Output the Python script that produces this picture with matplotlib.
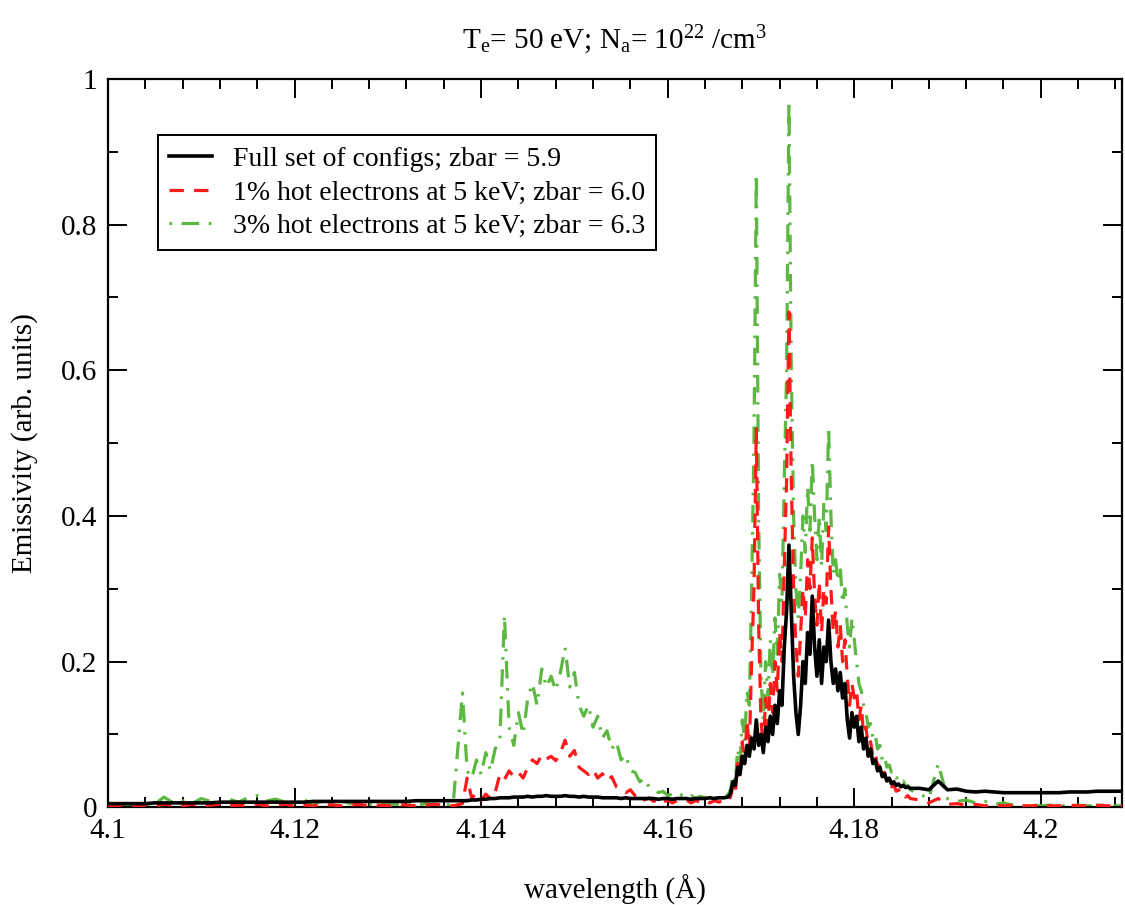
import numpy as np
import matplotlib
matplotlib.use("Agg")
import matplotlib.pyplot as plt
from matplotlib.ticker import MultipleLocator, FuncFormatter

plt.rcParams["font.family"] = ["Liberation Serif", "DejaVu Serif"]
plt.rcParams["mathtext.fontset"] = "custom"
plt.rcParams["mathtext.rm"] = "Liberation Serif"
plt.rcParams["mathtext.it"] = "Liberation Serif:italic"

# wavelength grid (A): coarse on the flat parts, finer where the lines are
wl_a = np.round(np.arange(4.100, 4.1381, 0.001), 5)      # 39 pts
wl_b = np.round(np.arange(4.1385, 4.16651, 0.0005), 5)   # 57 pts
wl_c = np.round(np.arange(4.16675, 4.18601, 0.00025), 5) # 78 pts
wl_d = np.round(np.arange(4.187, 4.2091, 0.001), 5)      # 23 pts
wavelength = np.concatenate([wl_a, wl_b, wl_c, wl_d])

# Full set of configs; zbar = 5.9
full_a = [0.005, 0.005, 0.005, 0.005, 0.005, 0.006, 0.006, 0.006, 0.006, 0.006,
          0.006, 0.006, 0.007, 0.007, 0.007, 0.007, 0.007, 0.007, 0.007, 0.007,
          0.007, 0.007, 0.008, 0.008, 0.008, 0.008, 0.008, 0.008, 0.008, 0.008,
          0.008, 0.008, 0.008, 0.009, 0.009, 0.009, 0.009, 0.009, 0.009]
full_b = [0.009, 0.010, 0.010, 0.011, 0.011, 0.012, 0.012, 0.013, 0.013, 0.013,
          0.014, 0.014, 0.014, 0.015, 0.014, 0.015, 0.015, 0.016, 0.015, 0.015,
          0.015, 0.016, 0.015, 0.015, 0.014, 0.015, 0.014, 0.014, 0.014, 0.013,
          0.013, 0.013, 0.013, 0.012, 0.013, 0.012, 0.012, 0.012, 0.012, 0.012,
          0.012, 0.011, 0.012, 0.012, 0.011, 0.012, 0.012, 0.012, 0.011, 0.012,
          0.012, 0.012, 0.013, 0.012, 0.013, 0.013, 0.014]
full_c = [0.020, 0.035, 0.030, 0.055, 0.045, 0.070, 0.060, 0.085, 0.070, 0.095,
          0.080, 0.120, 0.085, 0.100, 0.075, 0.110, 0.090, 0.125, 0.100, 0.140,
          0.115, 0.160, 0.140, 0.220, 0.270, 0.360, 0.270, 0.180, 0.130, 0.100,
          0.140, 0.200, 0.170, 0.240, 0.210, 0.290, 0.220, 0.180, 0.230, 0.170,
          0.220, 0.200, 0.257, 0.200, 0.170, 0.190, 0.160, 0.185, 0.150, 0.170,
          0.120, 0.095, 0.130, 0.110, 0.125, 0.090, 0.110, 0.080, 0.095, 0.070,
          0.080, 0.060, 0.065, 0.050, 0.055, 0.042, 0.046, 0.036, 0.040, 0.032,
          0.035, 0.030, 0.032, 0.028, 0.030, 0.027, 0.028, 0.026]
full_d = [0.026, 0.024, 0.036, 0.024, 0.025, 0.022, 0.021, 0.022, 0.021, 0.020,
          0.020, 0.020, 0.020, 0.020, 0.020, 0.020, 0.021, 0.021, 0.021, 0.022,
          0.022, 0.022, 0.022]

# 1% hot electrons at 5 keV; zbar = 6.0
hot1_a = [0.003, 0.002, 0.004, 0.002, 0.003, 0.002, 0.004, 0.003, 0.002, 0.004,
          0.002, 0.003, 0.004, 0.002, 0.003, 0.002, 0.004, 0.002, 0.003, 0.004,
          0.002, 0.003, 0.002, 0.004, 0.003, 0.002, 0.003, 0.004, 0.002, 0.003,
          0.002, 0.004, 0.003, 0.002, 0.003, 0.004, 0.003, 0.002, 0.005]
hot1_b = [0.040, 0.012, 0.020, 0.010, 0.018, 0.012, 0.020, 0.045, 0.038, 0.050,
          0.042, 0.048, 0.040, 0.055, 0.065, 0.060, 0.072, 0.066, 0.070, 0.064,
          0.075, 0.092, 0.070, 0.078, 0.055, 0.050, 0.045, 0.052, 0.040, 0.046,
          0.036, 0.042, 0.028, 0.025, 0.020, 0.024, 0.016, 0.018, 0.010, 0.013,
          0.008, 0.012, 0.007, 0.010, 0.006, 0.009, 0.007, 0.010, 0.006, 0.009,
          0.007, 0.010, 0.006, 0.009, 0.007, 0.010, 0.008]
hot1_c = [0.015, 0.030, 0.020, 0.060, 0.040, 0.090, 0.060, 0.120, 0.080, 0.200,
          0.300, 0.520, 0.250, 0.120, 0.080, 0.150, 0.110, 0.170, 0.130, 0.200,
          0.160, 0.240, 0.200, 0.330, 0.450, 0.680, 0.450, 0.300, 0.220, 0.180,
          0.240, 0.300, 0.260, 0.340, 0.300, 0.370, 0.290, 0.250, 0.310, 0.240,
          0.300, 0.280, 0.385, 0.300, 0.240, 0.270, 0.220, 0.250, 0.200, 0.230,
          0.180, 0.140, 0.170, 0.150, 0.160, 0.120, 0.140, 0.100, 0.110, 0.085,
          0.090, 0.070, 0.075, 0.055, 0.060, 0.045, 0.048, 0.035, 0.038, 0.028,
          0.030, 0.022, 0.024, 0.018, 0.020, 0.014, 0.016, 0.012]
hot1_d = [0.010, 0.006, 0.012, 0.004, 0.005, 0.003, 0.004, 0.002, 0.003, 0.002,
          0.003, 0.002, 0.002, 0.003, 0.002, 0.002, 0.003, 0.002, 0.002, 0.003,
          0.002, 0.002, 0.002]

# 3% hot electrons at 5 keV; zbar = 6.3
hot3_a = [0.003, 0.002, 0.004, 0.003, 0.002, 0.004, 0.014, 0.006, 0.009, 0.005,
          0.012, 0.008, 0.006, 0.011, 0.007, 0.013, 0.016, 0.009, 0.011, 0.007,
          0.006, 0.010, 0.005, 0.008, 0.006, 0.009, 0.005, 0.007, 0.004, 0.006,
          0.005, 0.004, 0.006, 0.003, 0.005, 0.004, 0.003, 0.004, 0.157]
hot3_b = [0.050, 0.040, 0.065, 0.045, 0.075, 0.050, 0.080, 0.090, 0.264, 0.110,
          0.085, 0.130, 0.100, 0.150, 0.170, 0.140, 0.190, 0.165, 0.180, 0.160,
          0.185, 0.219, 0.165, 0.185, 0.140, 0.125, 0.140, 0.110, 0.125, 0.095,
          0.105, 0.080, 0.090, 0.065, 0.072, 0.050, 0.048, 0.035, 0.040, 0.028,
          0.025, 0.020, 0.022, 0.016, 0.018, 0.014, 0.017, 0.013, 0.016, 0.012,
          0.015, 0.013, 0.016, 0.012, 0.015, 0.013, 0.018]
hot3_c = [0.025, 0.045, 0.035, 0.080, 0.060, 0.120, 0.090, 0.160, 0.140, 0.300,
          0.500, 0.870, 0.400, 0.180, 0.120, 0.200, 0.150, 0.230, 0.180, 0.260,
          0.210, 0.320, 0.280, 0.450, 0.600, 0.970, 0.600, 0.400, 0.300, 0.260,
          0.320, 0.400, 0.350, 0.440, 0.380, 0.477, 0.400, 0.340, 0.400, 0.330,
          0.420, 0.380, 0.523, 0.400, 0.320, 0.340, 0.310, 0.330, 0.280, 0.300,
          0.250, 0.220, 0.260, 0.230, 0.200, 0.170, 0.160, 0.140, 0.130, 0.110,
          0.115, 0.095, 0.100, 0.080, 0.085, 0.065, 0.070, 0.055, 0.058, 0.048,
          0.050, 0.040, 0.042, 0.034, 0.036, 0.028, 0.030, 0.024]
hot3_d = [0.018, 0.012, 0.060, 0.012, 0.008, 0.010, 0.006, 0.008, 0.004, 0.006,
          0.003, 0.002, 0.003, 0.002, 0.003, 0.002, 0.002, 0.003, 0.002, 0.002,
          0.003, 0.002, 0.002]

full = np.array(full_a + full_b + full_c + full_d)
hot1 = np.array(hot1_a + hot1_b + hot1_c + hot1_d)
hot3 = np.array(hot3_a + hot3_b + hot3_c + hot3_d)

labels = ["Full set of configs; zbar = 5.9",
          "1% hot electrons at 5 keV; zbar = 6.0",
          "3% hot electrons at 5 keV; zbar = 6.3"]

fig = plt.figure(figsize=(11.25, 9.05), dpi=100)
ax = fig.add_axes([0.096, 0.108, 0.9013, 0.8047])

lw = 2.3
l3, = ax.plot(wavelength, hot3, color="#5cb840", lw=lw, dashes=(0.8, 3, 5.5, 3), zorder=2)
l2, = ax.plot(wavelength, hot1, color="#ff1a1a", lw=lw, dashes=(4.5, 3.2), zorder=3)
l1, = ax.plot(wavelength, full, color="black", lw=2.6, zorder=4)

ax.set_xlim(4.1, 4.2087)
ax.set_ylim(0, 1)
ax.xaxis.set_major_locator(MultipleLocator(0.02))
ax.xaxis.set_minor_locator(MultipleLocator(0.004))
ax.yaxis.set_major_locator(MultipleLocator(0.2))
ax.yaxis.set_minor_locator(MultipleLocator(0.1))
fmt = FuncFormatter(lambda v, p: "%g" % round(v, 4))
ax.xaxis.set_major_formatter(fmt)
ax.yaxis.set_major_formatter(fmt)
ax.tick_params(which="both", direction="in", top=True, right=True, width=1.4,
               labelsize=21, pad=8)
ax.tick_params(which="major", length=14)
ax.tick_params(which="minor", length=7)
for s in ax.spines.values():
    s.set_linewidth(1.6)

ax.set_xlabel("wavelength (Å)", fontsize=21, labelpad=22)
ax.set_ylabel("Emissivity (arb. units)", fontsize=21, labelpad=16)
ax.set_title(r"T$_{\rm e}$= 50 eV; N$_{\rm a}$= 10$^{22}$ /cm$^{3}$", fontsize=21, pad=22)

leg = ax.legend([l1, l2, l3], labels, loc="upper left", bbox_to_anchor=(0.049, 0.923),
                borderaxespad=0, fontsize=20, handlelength=1.55, handletextpad=0.75,
                labelspacing=0.3, borderpad=0.4, fancybox=False, framealpha=1)
leg.get_frame().set_edgecolor("black")
leg.get_frame().set_linewidth(1.4)

fig.savefig("out.png", dpi=100)
